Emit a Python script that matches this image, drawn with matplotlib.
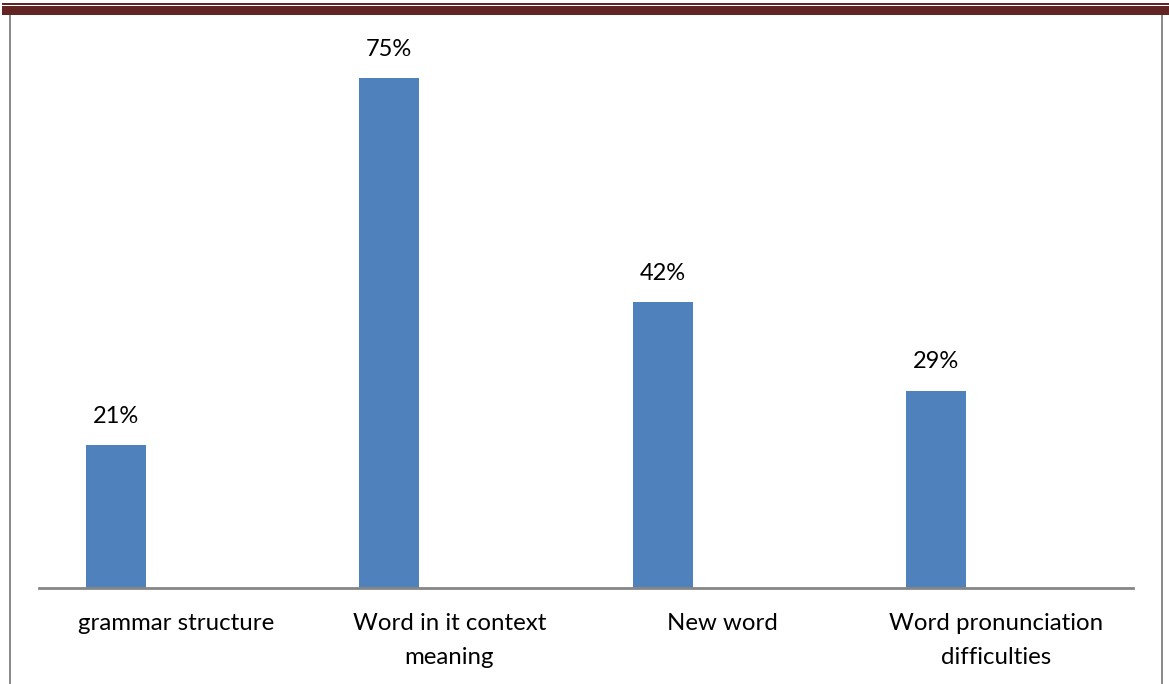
import matplotlib.pyplot as plt
from matplotlib.patches import Rectangle
import numpy as np

# survey results: which difficulty students mentioned
categories = ["grammar structure", "Word in it context\nmeaning", "New word", "Word pronunciation\ndifficulties"]
percent = [21, 75, 42, 29]

W, H = 1169, 684
fig = plt.figure(figsize=(W / 100, H / 100), dpi=100)
plt.rcParams['font.family'] = ['Lato', 'DejaVu Sans']

# page decoration: dark red header rule and grey frame
def px_rect(x0, y0, x1, y1, color):
    fig.patches.append(Rectangle((x0 / W, 1 - y1 / H), (x1 - x0) / W, (y1 - y0) / H,
                                 transform=fig.transFigure, color=color, lw=0, zorder=0))

px_rect(2, 3, W, 5, '#632523')
px_rect(2, 6, W, 15, '#632523')
px_rect(9, 15, 11, H, '#8c8c8c')
px_rect(1161, 15, 1163, H, '#8c8c8c')

ax = fig.add_axes([39 / W, 96 / H, 1094 / W, 544 / H])
x = np.arange(len(categories))
bw = 60 / 273.5
bars = ax.bar(x - bw * 1.0, percent, width=bw, color='#4F81BD', zorder=2)

for b, v in zip(bars, percent):
    ax.text(b.get_x() + b.get_width() / 2, v + 2.7, f"{v}%", ha='center', va='bottom',
            fontsize=17, color='black')

ax.set_xlim(-0.5, len(categories) - 0.5)
ax.set_ylim(0, 80)
ax.set_xticks(x)
ax.set_xticklabels(categories, fontsize=17.3, linespacing=1.75)
ax.tick_params(axis='x', length=0, pad=18)
ax.set_yticks([])
for s in ['top', 'right', 'left']:
    ax.spines[s].set_visible(False)
ax.spines['bottom'].set_color('#868686')
ax.spines['bottom'].set_linewidth(2)
ax.patch.set_alpha(0)

fig.savefig('out.png', dpi=100)
